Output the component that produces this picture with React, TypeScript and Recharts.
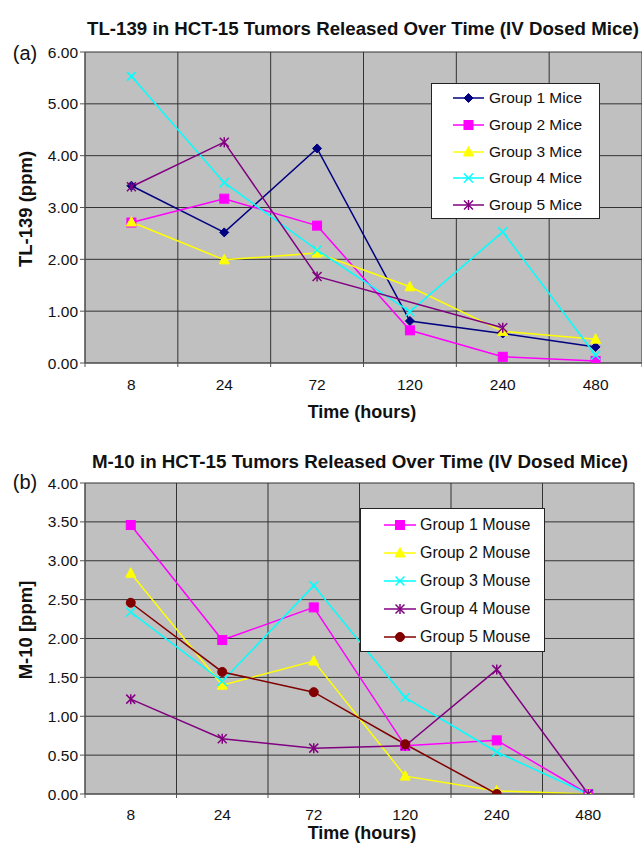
import React from 'react';
import { LineChart, Line, XAxis, YAxis, CartesianGrid, Legend } from 'recharts';

// ---------- data ----------
const timeLabels = ['8', '24', '72', '120', '240', '480'];

const tlGroup1 = [3.42, 2.52, 4.14, 0.81, 0.57, 0.31];
const tlGroup2 = [2.71, 3.17, 2.65, 0.63, 0.12, 0.04];
const tlGroup3 = [2.72, 1.99, 2.12, 1.47, 0.61, 0.46];
const tlGroup4 = [5.53, 3.48, 2.18, 0.99, 2.53, 0.15];
const tlGroup5: (number | null)[] = [3.40, 4.26, 1.67, null, 0.68, null];
const tlNames = ['Group 1 Mice', 'Group 2 Mice', 'Group 3 Mice', 'Group 4 Mice', 'Group 5 Mice'];
const tlTicks = [0, 1, 2, 3, 4, 5, 6];

const mGroup1 = [3.46, 1.98, 2.40, 0.62, 0.69, 0.0];
const mGroup2 = [2.84, 1.40, 1.71, 0.23, 0.04, 0.0];
const mGroup3 = [2.34, 1.45, 2.68, 1.24, 0.54, 0.0];
const mGroup4 = [1.22, 0.71, 0.59, 0.62, 1.60, 0.0];
const mGroup5: (number | null)[] = [2.46, 1.57, 1.31, 0.64, 0.0, null];
const mNames = ['Group 1 Mouse', 'Group 2 Mouse', 'Group 3 Mouse', 'Group 4 Mouse', 'Group 5 Mouse'];
const mTicks = [0, 0.5, 1, 1.5, 2, 2.5, 3, 3.5, 4];

// ---------- styles ----------
const FONT = '"Liberation Sans", Arial, Helvetica, sans-serif';
const tlColors = ['#000080', '#FF00FF', '#FFFF00', '#00FFFF', '#800080'];
const tlShapes = ['diamond', 'square', 'triangle', 'x', 'asterisk'];
const mColors = ['#FF00FF', '#FFFF00', '#00FFFF', '#800080', '#800000'];
const mShapes = ['square', 'triangle', 'x', 'asterisk', 'circle'];

function buildRows(series: (number | null)[][]) {
  return timeLabels.map((label, i) => {
    const row: any = { pos: i + 0.5, label };
    series.forEach((s, j) => {
      row['s' + j] = s[i];
    });
    return row;
  });
}

const tlData = buildRows([tlGroup1, tlGroup2, tlGroup3, tlGroup4, tlGroup5]);
const mData = buildRows([mGroup1, mGroup2, mGroup3, mGroup4, mGroup5]);

const catTicks = timeLabels.map((_, i) => i + 0.5);
const boundTicks = timeLabels.map((_, i) => i).concat([timeLabels.length]);

function Marker({ shape, color, cx, cy }: { shape: string; color: string; cx: number; cy: number }) {
  const s = 4.5;
  switch (shape) {
    case 'diamond':
      return (
        <polygon
          points={`${cx},${cy - s} ${cx + s},${cy} ${cx},${cy + s} ${cx - s},${cy}`}
          fill={color}
          stroke={color}
        />
      );
    case 'square':
      return <rect x={cx - s} y={cy - s} width={2 * s} height={2 * s} fill={color} stroke={color} />;
    case 'triangle':
      return (
        <polygon
          points={`${cx},${cy - 5.5} ${cx + 5},${cy + 4} ${cx - 5},${cy + 4}`}
          fill={color}
          stroke={color}
        />
      );
    case 'x':
      return (
        <g stroke={color} strokeWidth={1.5}>
          <line x1={cx - s} y1={cy - s} x2={cx + s} y2={cy + s} />
          <line x1={cx - s} y1={cy + s} x2={cx + s} y2={cy - s} />
        </g>
      );
    case 'asterisk':
      return (
        <g stroke={color} strokeWidth={1.5}>
          <line x1={cx - s} y1={cy - s} x2={cx + s} y2={cy + s} />
          <line x1={cx - s} y1={cy + s} x2={cx + s} y2={cy - s} />
          <line x1={cx} y1={cy - s - 0.5} x2={cx} y2={cy + s + 0.5} />
        </g>
      );
    case 'circle':
    default:
      return <circle cx={cx} cy={cy} r={s} fill={color} stroke={color} />;
  }
}

function makeDot(shape: string, color: string) {
  return (props: any) => {
    const { cx, cy, index } = props;
    if (cx == null || cy == null || props.value == null || (Array.isArray(props.value) && props.value[1] == null)) {
      return <g key={`e-${index}`} />;
    }
    return (
      <g key={`d-${index}`}>
        <Marker shape={shape} color={color} cx={cx} cy={cy} />
      </g>
    );
  };
}

function makeLegend(shapes: string[], colors: string[], cfg: any) {
  return (props: any) => {
    const payload = props.payload || [];
    return (
      <div
        style={{
          width: cfg.w,
          height: cfg.h,
          boxSizing: 'border-box',
          background: '#FFFFFF',
          border: '1px solid #222',
          position: 'relative',
          fontFamily: FONT,
        }}
      >
        {payload.map((entry: any, i: number) => {
          const idx = Number(String(entry.dataKey).slice(1));
          return (
            <div
              key={i}
              style={{
                position: 'absolute',
                left: 0,
                top: cfg.first + i * cfg.step - 10,
                height: 20,
                width: '100%',
              }}
            >
              <svg width={cfg.lineEnd + 2} height={20} style={{ position: 'absolute', left: 0, top: 0 }}>
                <line x1={cfg.lineStart} y1={10} x2={cfg.lineEnd} y2={10} stroke={colors[idx]} strokeWidth={1.5} />
                <Marker shape={shapes[idx]} color={colors[idx]} cx={(cfg.lineStart + cfg.lineEnd) / 2} cy={10} />
              </svg>
              <span
                style={{
                  position: 'absolute',
                  left: cfg.textX,
                  top: 0,
                  lineHeight: '20px',
                  fontSize: cfg.font,
                  color: '#111',
                  whiteSpace: 'nowrap',
                }}
              >
                {entry.value}
              </span>
            </div>
          );
        })}
      </div>
    );
  };
}

const axisStroke = '#555';
const gridStroke = '#333';

function Panel(props: {
  data: any[];
  names: string[];
  colors: string[];
  shapes: string[];
  yMax: number;
  yTicks: number[];
  width: number;
  height: number;
  margin: any;
  tickMargin: number;
  legendPos: any;
  legendCfg: any;
  connectNulls: boolean;
}) {
  const { data, names, colors, shapes } = props;
  return (
    <LineChart width={props.width} height={props.height} data={data} margin={props.margin}>
      <CartesianGrid xAxisId="bound" fill="#C0C0C0" stroke={gridStroke} strokeWidth={1} fillOpacity={1} />
      <XAxis
        xAxisId="bound"
        dataKey="pos"
        type="number"
        domain={[0, timeLabels.length]}
        ticks={boundTicks}
        height={1}
        tickSize={4}
        axisLine={{ stroke: axisStroke }}
        tickLine={{ stroke: axisStroke }}
        tickFormatter={() => ''}
        allowDataOverflow
      />
      <XAxis
        xAxisId="cat"
        dataKey="pos"
        type="number"
        domain={[0, timeLabels.length]}
        ticks={catTicks}
        height={1}
        tickSize={0}
        tickMargin={props.tickMargin}
        tickLine={false}
        axisLine={false}
        tick={{ fill: '#111', fontSize: 15.5, fontFamily: FONT }}
        tickFormatter={(v: number) => timeLabels[Math.round(v - 0.5)]}
        allowDataOverflow
      />
      <YAxis
        type="number"
        domain={[0, props.yMax]}
        ticks={props.yTicks}
        width={85}
        tickSize={5}
        tickMargin={2}
        axisLine={{ stroke: axisStroke }}
        tickLine={{ stroke: axisStroke }}
        tick={{ fill: '#111', fontSize: 15.5, fontFamily: FONT }}
        tickFormatter={(v: number) => v.toFixed(2)}
        allowDataOverflow
      />
      <Legend
        layout="vertical"
        align="center"
        verticalAlign="middle"
        wrapperStyle={{ ...props.legendPos, width: props.legendCfg.w, height: props.legendCfg.h }}
        content={makeLegend(shapes, colors, props.legendCfg)}
      />
      {names.map((name, j) => (
        <Line
          key={name}
          xAxisId="cat"
          type="linear"
          dataKey={'s' + j}
          name={name}
          stroke={colors[j]}
          strokeWidth={1.5}
          dot={makeDot(shapes[j], colors[j])}
          activeDot={false}
          connectNulls={props.connectNulls}
          isAnimationActive={false}
        />
      ))}
    </LineChart>
  );
}

export default function App() {
  return (
    <div style={{ position: 'absolute', left: 0, top: 0, width: 642, height: 845, background: '#fff', overflow: 'hidden' }}>
      <div style={{ position: 'absolute', left: 0, top: 0 }}>
        <Panel
          data={tlData}
          names={tlNames}
          colors={tlColors}
          shapes={tlShapes}
          yMax={6}
          yTicks={tlTicks}
          width={642}
          height={420}
          margin={{ top: 52, right: 0, bottom: 55, left: 0 }}
          tickMargin={15}
          legendPos={{ left: 431, top: 83 }}
          legendCfg={{ w: 169, h: 136, first: 14, step: 26.8, lineStart: 21, lineEnd: 52, textX: 57, font: 15.5 }}
          connectNulls={true}
        />
      </div>
      <div style={{ position: 'absolute', left: 0, top: 440 }}>
        <Panel
          data={mData}
          names={mNames}
          colors={mColors}
          shapes={mShapes}
          yMax={4}
          yTicks={mTicks}
          width={642}
          height={405}
          margin={{ top: 43, right: 8, bottom: 49, left: 0 }}
          tickMargin={14}
          legendPos={{ left: 360, top: 68 }}
          legendCfg={{ w: 185, h: 144, first: 16, step: 28, lineStart: 23, lineEnd: 55, textX: 59, font: 16 }}
          connectNulls={false}
        />
      </div>
      <svg
        width={642}
        height={845}
        style={{ position: 'absolute', left: 0, top: 0, pointerEvents: 'none' }}
        fontFamily={FONT}
      >
        <text
          x={363}
          y={29}
          textAnchor="middle"
          dominantBaseline="central"
          fontSize={18}
          fontWeight="bold"
          fill="#111"
          textLength={552}
          lengthAdjust="spacingAndGlyphs"
        >
          TL-139 in HCT-15 Tumors Released Over Time (IV Dosed Mice)
        </text>
        <text x={25} y={53} textAnchor="middle" dominantBaseline="central" fontSize={20} fill="#111">
          (a)
        </text>
        <text
          x={25}
          y={209}
          textAnchor="middle"
          dominantBaseline="central"
          fontSize={18.5}
          fontWeight="bold"
          fill="#111"
          transform="rotate(-90 25 209)"
        >
          TL-139 (ppm)
        </text>
        <text x={362} y={412} textAnchor="middle" dominantBaseline="central" fontSize={18} fontWeight="bold" fill="#111">
          Time (hours)
        </text>

        <text
          x={360}
          y={462}
          textAnchor="middle"
          dominantBaseline="central"
          fontSize={18}
          fontWeight="bold"
          fill="#111"
          textLength={536}
          lengthAdjust="spacingAndGlyphs"
        >
          M-10 in HCT-15 Tumors Released Over Time (IV Dosed Mice)
        </text>
        <text x={25} y={482} textAnchor="middle" dominantBaseline="central" fontSize={20} fill="#111">
          (b)
        </text>
        <text
          x={25}
          y={630}
          textAnchor="middle"
          dominantBaseline="central"
          fontSize={18.5}
          fontWeight="bold"
          fill="#111"
          transform="rotate(-90 25 630)"
        >
          M-10 [ppm]
        </text>
        <text x={362} y={833} textAnchor="middle" dominantBaseline="central" fontSize={18} fontWeight="bold" fill="#111">
          Time (hours)
        </text>
      </svg>
    </div>
  );
}
